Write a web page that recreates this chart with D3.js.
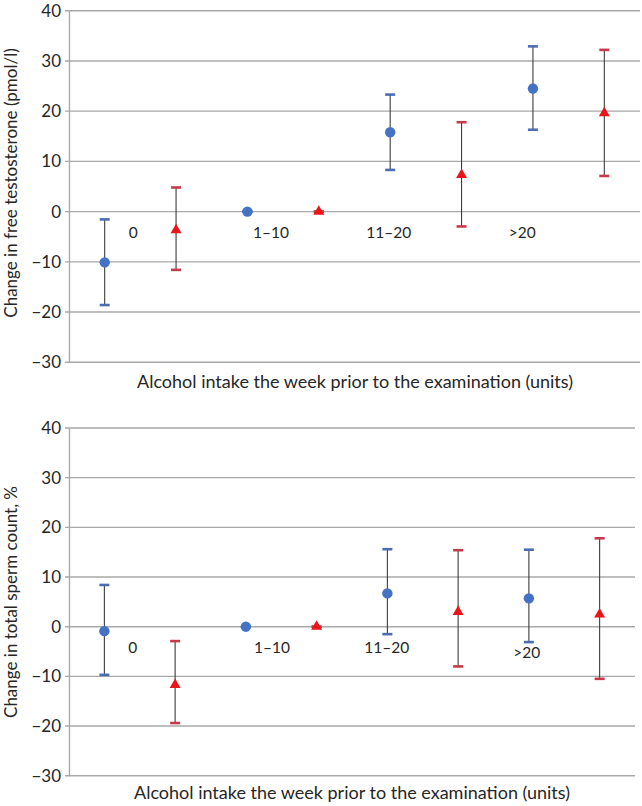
<!DOCTYPE html>
<html>
<head>
<meta charset="utf-8">
<script src="https://cdn.jsdelivr.net/npm/d3@7"></script>
<style>
  html, body { margin: 0; padding: 0; background: #fff; }
  svg { display: block; }
  text { font-family: Lato, "Open Sans", sans-serif; fill: #262626; }
</style>
</head>
<body>
<svg id="chart" width="642" height="806"></svg>
<script>
// ---- data ----
const categories = ["0", "1\u201310", "11\u201320", ">20"];
const yTicks = [-30, -20, -10, 0, 10, 20, 30, 40];
const xTitle = "Alcohol intake the week prior to the examination (units)";

// Panel A: free testosterone
const titleA = "Change in free testosterone  (pmol/l)";
const blueMeanA = [-10.1, 0, 15.8, 24.5];
const blueLowA  = [-18.6, 0, 8.3, 16.3];
const blueHighA = [-1.55, 0, 23.3, 32.9];
const redMeanA  = [-3.7, 0, 7.3, 19.6];
const redLowA   = [-11.6, 0, -2.95, 7.1];
const redHighA  = [4.8, 0, 17.8, 32.2];
const labelSlotA = [0.9, 2.83, 4.48, 6.35];
const labelValA  = [-4, -4, -4, -4];

// Panel B: total sperm count
const titleB = "Change in total sperm count, %";
const blueMeanB = [-0.9, 0, 6.7, 5.7];
const blueLowB  = [-9.7, 0, -1.5, -3.1];
const blueHighB = [8.4, 0, 15.6, 15.5];
const redMeanB  = [-11.7, 0, 3.0, 2.5];
const redLowB   = [-19.4, 0, -8.0, -10.5];
const redHighB  = [-2.9, 0, 15.4, 17.8];
const labelSlotB = [0.9, 2.87, 4.49, 6.47];
const labelValB  = [-4.1, -4.1, -4.1, -5];

// ---- drawing ----
const svg = d3.select("#chart");
const BLUE = "#4472C4", RED = "#E8161B";
const BLUE_CAP = "#4C6DB2", RED_CAP = "#C7394B";
const GRID = "#A9A9A9";

function panel(opt) {
  const g = svg.append("g");
  const y = d3.scaleLinear().domain([-30, 40]).range([opt.yBot, opt.yTop]);
  const x = d3.scaleBand().domain(d3.range(categories.length * 2)).range([opt.xL, opt.xR]).padding(0);
  const cx = i => x(i) + x.bandwidth() / 2;

  // gridlines
  g.append("g").selectAll("line").data(yTicks).join("line")
    .attr("x1", opt.xL - 4).attr("x2", opt.xR)
    .attr("y1", d => y(d)).attr("y2", d => y(d))
    .attr("stroke", GRID).attr("stroke-width", 1.4);

  // y axis
  const ax = g.append("g").attr("transform", `translate(${opt.xL},0)`)
    .call(d3.axisLeft(y).tickValues(yTicks).tickSize(0).tickPadding(8).tickSizeOuter(0));
  ax.select(".domain").attr("stroke", GRID).attr("stroke-width", 1.4);
  ax.selectAll("text").style("font-family", "Lato, 'Open Sans', sans-serif")
    .style("font-size", "17px").attr("fill", "#262626");

  // series
  const series = [
    { mean: opt.blueMean, lo: opt.blueLow, hi: opt.blueHigh, off: 0, color: BLUE, cap: BLUE_CAP, shape: "circle" },
    { mean: opt.redMean, lo: opt.redLow, hi: opt.redHigh, off: 1, color: RED, cap: RED_CAP, shape: "triangle" }
  ];
  series.forEach(s => {
    const pts = categories.map((c, i) => ({ i: i * 2 + s.off, m: s.mean[i], lo: s.lo[i], hi: s.hi[i] }));
    const sg = g.append("g");
    sg.selectAll(".eb").data(pts).join("line")
      .attr("x1", d => cx(d.i)).attr("x2", d => cx(d.i))
      .attr("y1", d => y(d.lo)).attr("y2", d => y(d.hi))
      .attr("stroke", "#3C3C3C").attr("stroke-width", 1.1);
    sg.selectAll(".capH").data(pts).join("line")
      .attr("x1", d => cx(d.i) - 5).attr("x2", d => cx(d.i) + 5)
      .attr("y1", d => y(d.hi)).attr("y2", d => y(d.hi))
      .attr("stroke", s.cap).attr("stroke-width", 2.6);
    sg.selectAll(".capL").data(pts).join("line")
      .attr("x1", d => cx(d.i) - 5).attr("x2", d => cx(d.i) + 5)
      .attr("y1", d => y(d.lo)).attr("y2", d => y(d.lo))
      .attr("stroke", s.cap).attr("stroke-width", 2.6);
    if (s.shape === "circle") {
      sg.selectAll("circle").data(pts).join("circle")
        .attr("cx", d => cx(d.i)).attr("cy", d => y(d.m)).attr("r", 5.2)
        .attr("fill", s.color);
    } else {
      const tri = d3.symbol().type(d3.symbolTriangle).size(52);
      sg.selectAll("path").data(pts).join("path")
        .attr("d", tri)
        .attr("transform", d => `translate(${cx(d.i)},${y(d.m)})`)
        .attr("fill", s.color);
    }
  });

  // category labels
  g.append("g").selectAll("text").data(categories).join("text")
    .attr("x", (d, i) => opt.xL + opt.labelSlot[i] * x.bandwidth())
    .attr("y", (d, i) => y(opt.labelVal[i]))
    .attr("text-anchor", "middle").attr("dominant-baseline", "central")
    .style("font-size", "15.5px")
    .text(d => d);

  // titles
  g.append("text").attr("x", opt.xTitleX).attr("y", opt.xTitleY)
    .attr("text-anchor", "middle").style("font-size", "18px").text(xTitle);
  g.append("text")
    .attr("transform", `translate(${opt.yTitleX},${opt.yTitleY}) rotate(-90)`)
    .attr("text-anchor", "middle").style("font-size", "17px").text(opt.title);
}

panel({
  yTop: 10.7, yBot: 362.3, xL: 69, xR: 640,
  blueMean: blueMeanA, blueLow: blueLowA, blueHigh: blueHighA,
  redMean: redMeanA, redLow: redLowA, redHigh: redHighA,
  labelSlot: labelSlotA, labelVal: labelValA,
  xTitleX: 355, xTitleY: 388, yTitleX: 17, yTitleY: 183, title: titleA
});
panel({
  yTop: 428, yBot: 775.7, xL: 69, xR: 635,
  blueMean: blueMeanB, blueLow: blueLowB, blueHigh: blueHighB,
  redMean: redMeanB, redLow: redLowB, redHigh: redHighB,
  labelSlot: labelSlotB, labelVal: labelValB,
  xTitleX: 352, xTitleY: 799, yTitleX: 17, yTitleY: 602, title: titleB
});
</script>
</body>
</html>
